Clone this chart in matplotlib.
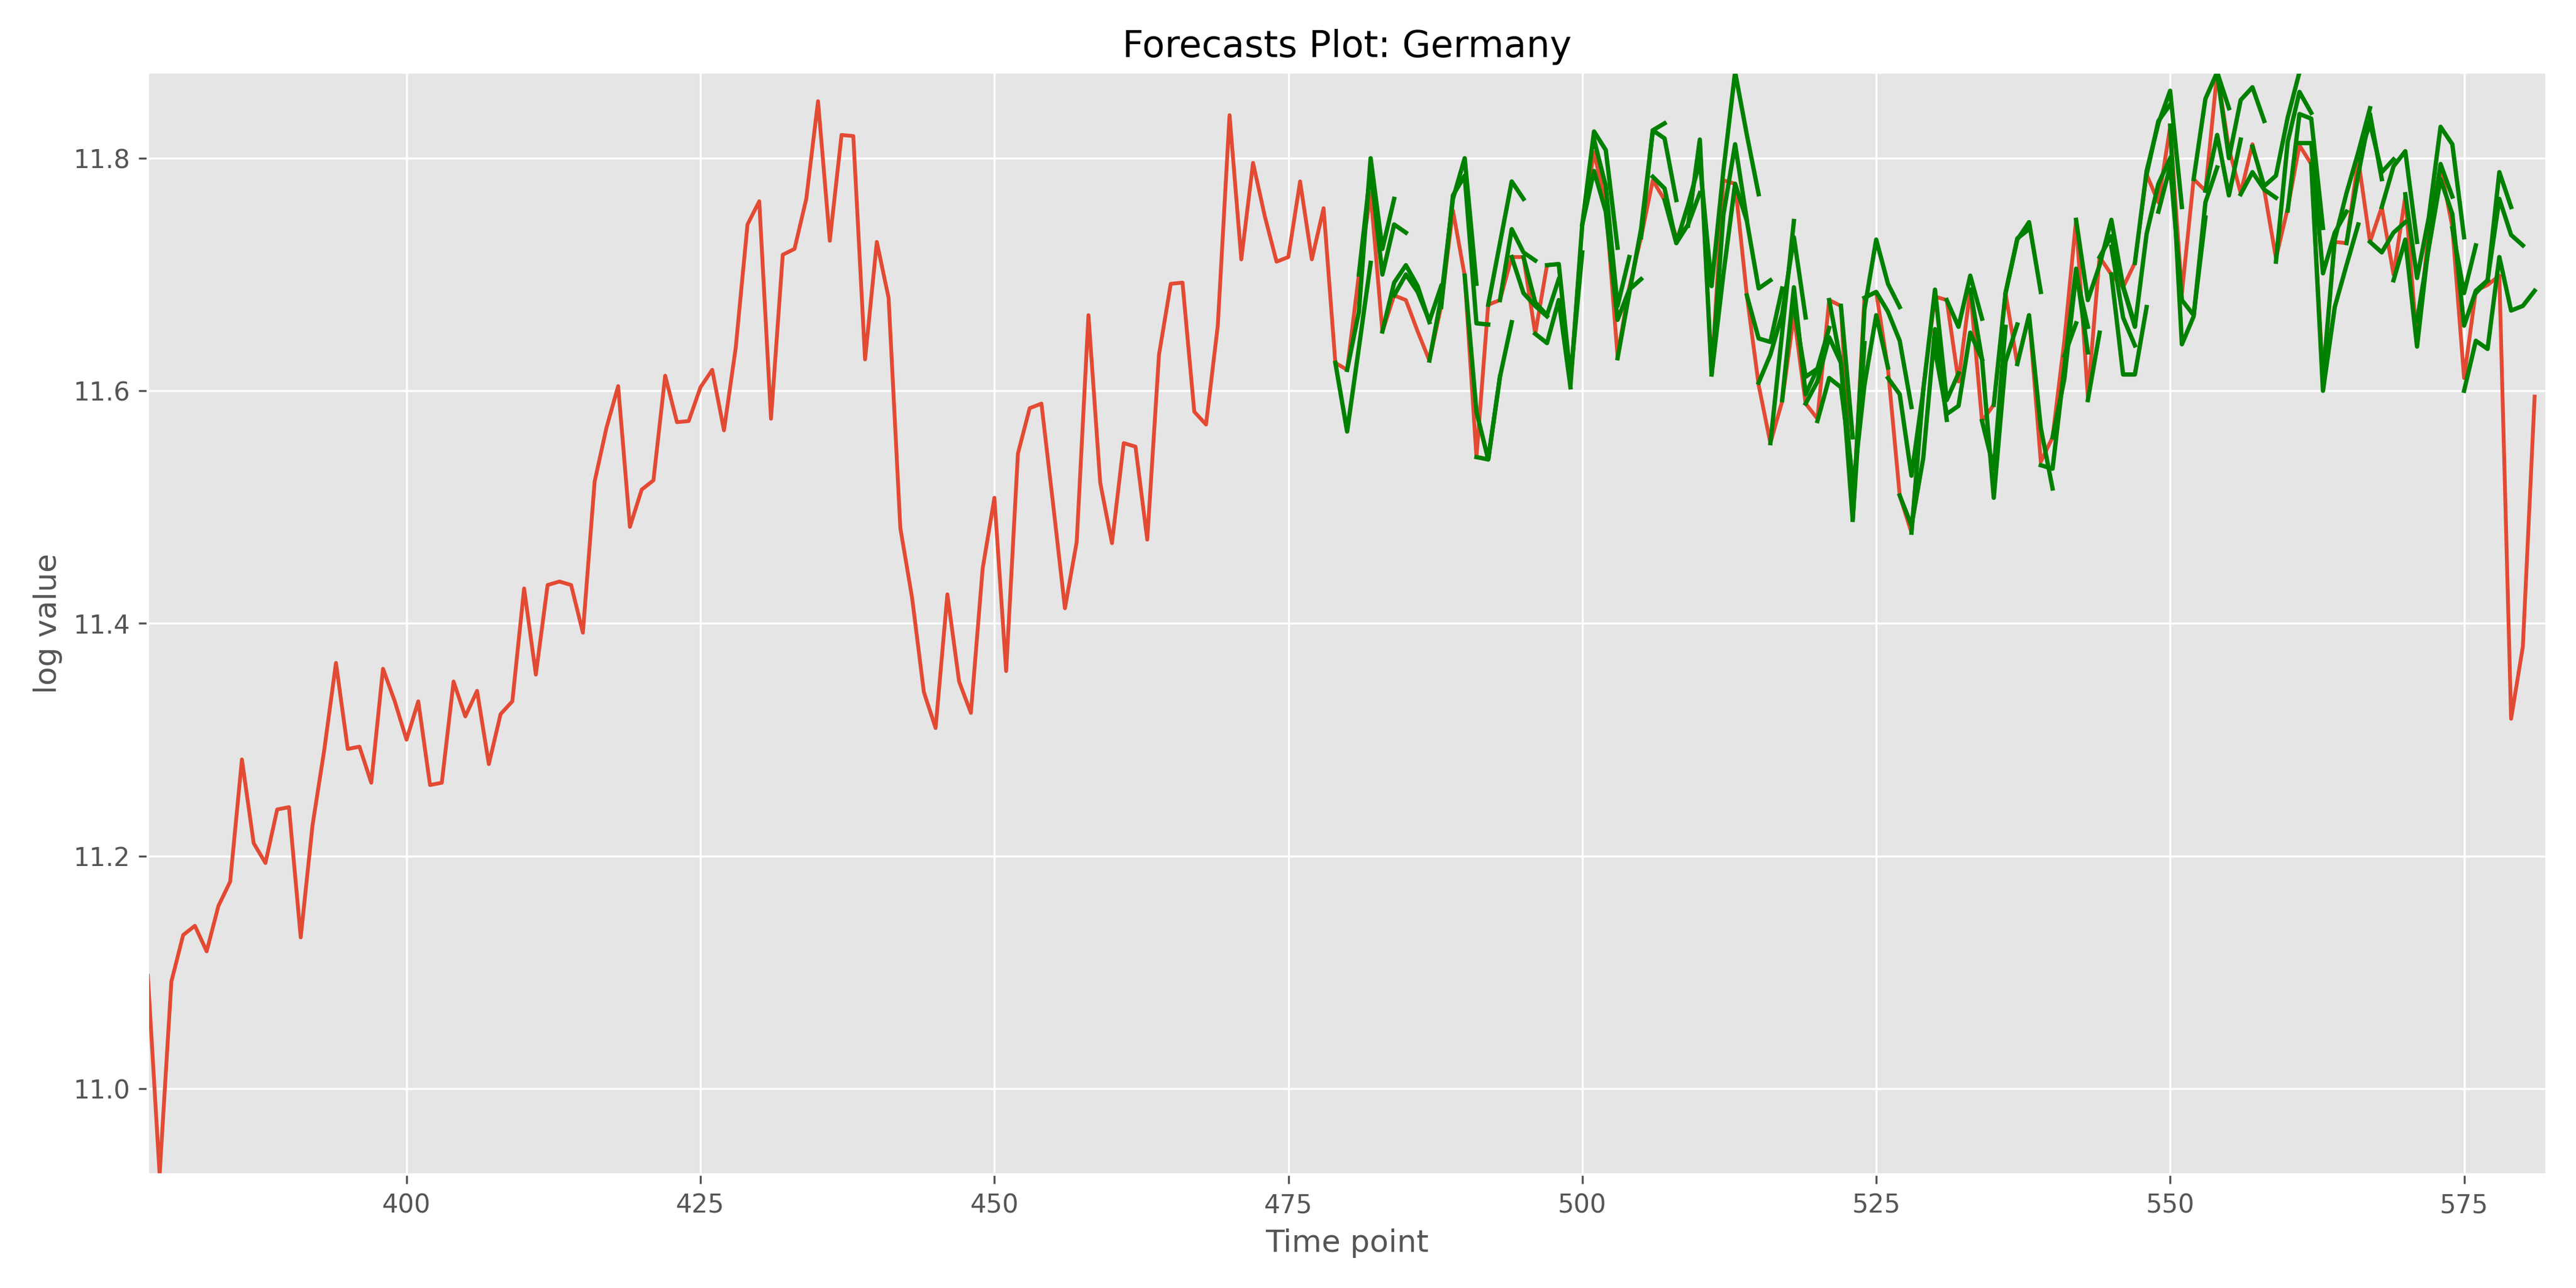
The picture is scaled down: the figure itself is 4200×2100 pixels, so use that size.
import numpy as np
import matplotlib
matplotlib.use("Agg")
import matplotlib.pyplot as plt

# ---- actual series (log value), time points 378..581 ----
actual_start = 378
actual_values = [
    11.097, 10.926, 11.092, 11.132, 11.140, 11.118, 11.157, 11.178, 11.283, 11.211,
    11.194, 11.240, 11.242, 11.130, 11.226, 11.291, 11.366, 11.292, 11.294, 11.263,
    11.361, 11.333, 11.300, 11.333, 11.261, 11.263, 11.350, 11.320, 11.342, 11.279,
    11.322, 11.333, 11.430, 11.356, 11.433, 11.436, 11.433, 11.392, 11.522, 11.568,
    11.604, 11.483, 11.515, 11.523, 11.613, 11.573, 11.574, 11.603, 11.618, 11.566,
    11.637, 11.743, 11.763, 11.576, 11.717, 11.722, 11.765, 11.849, 11.729, 11.820,
    11.819, 11.627, 11.728, 11.680, 11.482, 11.422, 11.341, 11.310, 11.425, 11.350,
    11.323, 11.447, 11.508, 11.359, 11.546, 11.585, 11.589, 11.502, 11.413, 11.470,
    11.665, 11.521, 11.469, 11.555, 11.552, 11.472, 11.631, 11.692, 11.693, 11.582,
    11.571, 11.656, 11.837, 11.713, 11.796, 11.750, 11.711, 11.715, 11.780, 11.713,
    11.757, 11.624, 11.618, 11.700, 11.770, 11.651, 11.682, 11.678, 11.651, 11.626,
    11.673, 11.755, 11.699, 11.543, 11.674, 11.678, 11.715, 11.715, 11.649, 11.708,
    11.709, 11.608, 11.743, 11.805, 11.760, 11.630, 11.689, 11.732, 11.781, 11.764,
    11.732, 11.742, 11.816, 11.614, 11.781, 11.778, 11.682, 11.605, 11.555, 11.591,
    11.665, 11.589, 11.576, 11.678, 11.673, 11.489, 11.680, 11.685, 11.619, 11.510,
    11.478, 11.603, 11.681, 11.678, 11.608, 11.687, 11.574, 11.588, 11.684, 11.623,
    11.665, 11.539, 11.560, 11.643, 11.747, 11.595, 11.715, 11.700, 11.689, 11.710,
    11.786, 11.762, 11.827, 11.684, 11.782, 11.772, 11.874, 11.808, 11.770, 11.812,
    11.773, 11.714, 11.757, 11.811, 11.795, 11.611, 11.728, 11.727, 11.799, 11.728,
    11.758, 11.700, 11.767, 11.641, 11.738, 11.793, 11.741, 11.611, 11.686, 11.691,
    11.699, 11.318, 11.380, 11.595,
]

# ---- forecast segments: start time point and forecast values ----
forecast_starts = [
    479, 480, 481, 483, 484, 487, 488, 490, 491, 492,
    493, 494, 495, 496, 497, 499, 501, 500, 503, 505,
    506, 507, 509, 510, 511, 514, 515, 516, 517, 518,
    519, 520, 521, 522, 523, 523, 524, 526, 527, 528,
    530, 531, 533, 534, 535, 536, 537, 539, 540, 541,
    542, 543, 544, 545, 545, 546, 547, 548, 549, 550,
    552, 553, 554, 556, 557, 559, 560, 561, 562, 563,
    565, 566, 567, 568, 569, 570, 571, 574, 575, 576,
    577,
]
forecast_values = [
    [11.624, 11.565, 11.637, 11.710],
    [11.618, 11.668, 11.800, 11.722, 11.765],
    [11.700, 11.790, 11.700, 11.743, 11.736],
    [11.651, 11.693, 11.708, 11.690, 11.659],
    [11.682, 11.700, 11.685, 11.660, 11.690],
    [11.626, 11.680, 11.765, 11.800, 11.692],
    [11.672, 11.768, 11.785, 11.658, 11.657],
    [11.699, 11.582, 11.541, 11.612],
    [11.543, 11.541, 11.612, 11.659],
    [11.674, 11.727, 11.780, 11.765],
    [11.678, 11.739, 11.719, 11.712],
    [11.715, 11.684, 11.673, 11.664],
    [11.715, 11.676, 11.665, 11.696],
    [11.649, 11.641, 11.678, 11.603],
    [11.708, 11.709, 11.611, 11.719],
    [11.605, 11.743, 11.823, 11.807, 11.723],
    [11.816, 11.776, 11.673, 11.715],
    [11.743, 11.789, 11.754, 11.661, 11.687, 11.696],
    [11.628, 11.684, 11.739, 11.824, 11.830],
    [11.732, 11.824, 11.817, 11.764],
    [11.784, 11.774, 11.727, 11.743, 11.770],
    [11.764, 11.727, 11.760, 11.797],
    [11.742, 11.816, 11.614, 11.751, 11.812, 11.747],
    [11.797, 11.690, 11.789, 11.874, 11.820, 11.769],
    [11.614, 11.700, 11.778, 11.746, 11.688, 11.695],
    [11.682, 11.645, 11.642, 11.688],
    [11.607, 11.631, 11.666, 11.732, 11.663],
    [11.555, 11.650, 11.746],
    [11.592, 11.689, 11.597, 11.619, 11.654],
    [11.673, 11.612, 11.619],
    [11.589, 11.608, 11.646, 11.624, 11.520],
    [11.574, 11.611, 11.603, 11.524],
    [11.678, 11.624, 11.489, 11.641],
    [11.673, 11.560],
    [11.489, 11.670, 11.730, 11.692, 11.672],
    [11.513, 11.605, 11.665, 11.620],
    [11.680, 11.685, 11.668, 11.643, 11.586],
    [11.611, 11.597, 11.527, 11.600],
    [11.510, 11.484, 11.542, 11.653, 11.575],
    [11.478, 11.600, 11.687, 11.592, 11.615],
    [11.635, 11.580, 11.587, 11.650, 11.627],
    [11.678, 11.655, 11.699, 11.662],
    [11.687, 11.627, 11.508, 11.625, 11.657],
    [11.574, 11.533, 11.655],
    [11.588, 11.684, 11.730, 11.745, 11.685],
    [11.684, 11.731, 11.739],
    [11.623, 11.665, 11.568, 11.516],
    [11.536, 11.533, 11.620, 11.705, 11.633],
    [11.560, 11.610, 11.700, 11.655],
    [11.630, 11.658],
    [11.747, 11.678, 11.708, 11.747, 11.690, 11.657],
    [11.592, 11.650],
    [11.715, 11.733, 11.689],
    [11.724, 11.663, 11.639],
    [11.700, 11.614, 11.614, 11.672],
    [11.689, 11.655, 11.735, 11.778, 11.800],
    [11.710, 11.789, 11.830, 11.858, 11.758],
    [11.786, 11.832, 11.846],
    [11.754, 11.793, 11.678, 11.665, 11.749],
    [11.828, 11.640, 11.664, 11.762, 11.792],
    [11.782, 11.851, 11.874, 11.843],
    [11.772, 11.820, 11.768, 11.816],
    [11.873, 11.800, 11.850, 11.861, 11.832],
    [11.769, 11.788, 11.773, 11.766],
    [11.810, 11.776, 11.785, 11.835, 11.874],
    [11.711, 11.814, 11.857, 11.839],
    [11.755, 11.838, 11.834, 11.740],
    [11.813, 11.813, 11.701, 11.736, 11.754],
    [11.795, 11.600, 11.672, 11.708, 11.743],
    [11.611, 11.730, 11.770, 11.805, 11.843],
    [11.727, 11.786, 11.838, 11.782],
    [11.799, 11.830, 11.788, 11.799],
    [11.728, 11.719, 11.736, 11.745],
    [11.758, 11.793, 11.806, 11.728],
    [11.695, 11.730, 11.638, 11.727, 11.795, 11.767],
    [11.769, 11.697, 11.749, 11.827, 11.812, 11.732],
    [11.660, 11.723, 11.782, 11.752, 11.656, 11.686, 11.695],
    [11.740, 11.684, 11.725],
    [11.600, 11.643, 11.636, 11.715, 11.669, 11.673, 11.686],
    [11.684, 11.695, 11.788, 11.758],
    [11.695, 11.765, 11.734, 11.725],
]

title = "Forecasts Plot: Germany"
xlabel = "Time point"
ylabel = "log value"

plt.style.use("ggplot")
fig, ax = plt.subplots(figsize=(14, 7), dpi=300)
fig.subplots_adjust(left=0.0574, right=0.9885, bottom=0.088, top=0.944)

t_actual = np.arange(actual_start, actual_start + len(actual_values))
ax.plot(t_actual, actual_values, color="#E24A33", linewidth=1.5)

all_vals = list(actual_values)
for s, vals in zip(forecast_starts, forecast_values):
    t = np.arange(s, s + len(vals))
    ax.plot(t, vals, color="green", linewidth=1.7)
    all_vals.extend(vals)

ax.set_xlim(actual_start, 582)
ax.set_ylim(min(all_vals), max(all_vals))
ax.set_title(title)
ax.set_xlabel(xlabel)
ax.set_ylabel(ylabel)

fig.savefig("out.png", dpi=300)
